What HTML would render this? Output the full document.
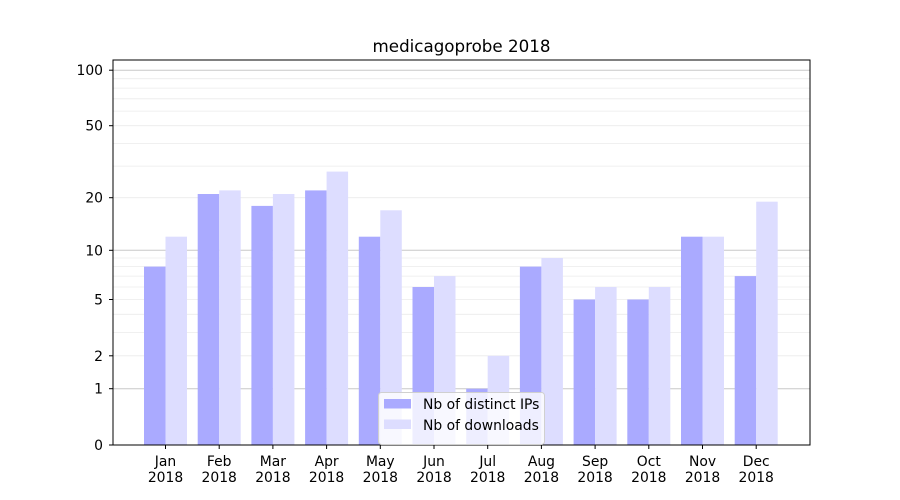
<!DOCTYPE html>
<html><head><meta charset="utf-8"><style>body{margin:0;background:#fff}svg{display:block}text{font-family:"DejaVu Sans","Liberation Sans",sans-serif;font-size:13.9px;fill:#000}</style></head><body>
<svg width="900" height="500" viewBox="0 0 900 500">
<rect width="900" height="500" fill="#fff"/>
<g stroke="#ebebeb" stroke-width="0.8">
<line x1="113" x2="810" y1="355.8" y2="355.8"/><line x1="113" x2="810" y1="332.4" y2="332.4"/><line x1="113" x2="810" y1="314.3" y2="314.3"/><line x1="113" x2="810" y1="299.5" y2="299.5"/><line x1="113" x2="810" y1="287" y2="287"/><line x1="113" x2="810" y1="276.1" y2="276.1"/><line x1="113" x2="810" y1="266.6" y2="266.6"/><line x1="113" x2="810" y1="258" y2="258"/>
<line x1="113" x2="810" y1="197.7" y2="197.7"/><line x1="113" x2="810" y1="166.1" y2="166.1"/><line x1="113" x2="810" y1="143.4" y2="143.4"/><line x1="113" x2="810" y1="125.7" y2="125.7"/><line x1="113" x2="810" y1="111.1" y2="111.1"/><line x1="113" x2="810" y1="98.8" y2="98.8"/><line x1="113" x2="810" y1="88.1" y2="88.1"/><line x1="113" x2="810" y1="78.7" y2="78.7"/>
</g>
<g stroke="#c8c8c8" stroke-width="1"><line x1="113" x2="810" y1="388.7" y2="388.7"/><line x1="113" x2="810" y1="250.3" y2="250.3"/><line x1="113" x2="810" y1="70.2" y2="70.2"/></g>
<g fill="#aaaaff">
<rect x="144" y="266.6" width="21.5" height="178.4"/><rect x="197.7" y="194" width="21.5" height="251"/><rect x="251.4" y="205.9" width="21.5" height="239.1"/><rect x="305.1" y="190.4" width="21.5" height="254.6"/><rect x="358.8" y="236.7" width="21.5" height="208.3"/><rect x="412.5" y="287" width="21.5" height="158"/><rect x="466.2" y="388.7" width="21.5" height="56.3"/><rect x="519.9" y="266.6" width="21.5" height="178.4"/><rect x="573.6" y="299.5" width="21.5" height="145.5"/><rect x="627.3" y="299.5" width="21.5" height="145.5"/><rect x="681" y="236.7" width="21.5" height="208.3"/><rect x="734.7" y="276.1" width="21.5" height="168.9"/>
</g>
<g fill="#ddddff">
<rect x="165.5" y="236.7" width="21.5" height="208.3"/><rect x="219.2" y="190.4" width="21.5" height="254.6"/><rect x="272.9" y="194" width="21.5" height="251"/><rect x="326.6" y="171.6" width="21.5" height="273.4"/><rect x="380.3" y="210.3" width="21.5" height="234.7"/><rect x="434" y="276.1" width="21.5" height="168.9"/><rect x="487.7" y="355.8" width="21.5" height="89.2"/><rect x="541.4" y="258" width="21.5" height="187"/><rect x="595.1" y="287" width="21.5" height="158"/><rect x="648.8" y="287" width="21.5" height="158"/><rect x="702.5" y="236.7" width="21.5" height="208.3"/><rect x="756.2" y="201.7" width="21.5" height="243.3"/>
</g>
<rect x="113" y="60" width="697" height="385" fill="none" stroke="#000" stroke-width="1"/>
<g stroke="#000"><line x1="109" x2="113" y1="445" y2="445"/><line x1="109" x2="113" y1="388.7" y2="388.7"/><line x1="109" x2="113" y1="355.8" y2="355.8"/><line x1="109" x2="113" y1="299.5" y2="299.5"/><line x1="109" x2="113" y1="250.3" y2="250.3"/><line x1="109" x2="113" y1="197.7" y2="197.7"/><line x1="109" x2="113" y1="125.7" y2="125.7"/><line x1="109" x2="113" y1="70.2" y2="70.2"/></g>
<g text-anchor="end"><text x="103" y="450">0</text><text x="103" y="393.7">1</text><text x="103" y="360.8">2</text><text x="103" y="304.5">5</text><text x="103" y="255.3">10</text><text x="103" y="202.7">20</text><text x="103" y="130.7">50</text><text x="103" y="75.2">100</text></g>
<g stroke="#000"><line x1="165.5" x2="165.5" y1="445" y2="449"/><line x1="219.2" x2="219.2" y1="445" y2="449"/><line x1="272.9" x2="272.9" y1="445" y2="449"/><line x1="326.6" x2="326.6" y1="445" y2="449"/><line x1="380.3" x2="380.3" y1="445" y2="449"/><line x1="434" x2="434" y1="445" y2="449"/><line x1="487.7" x2="487.7" y1="445" y2="449"/><line x1="541.4" x2="541.4" y1="445" y2="449"/><line x1="595.1" x2="595.1" y1="445" y2="449"/><line x1="648.8" x2="648.8" y1="445" y2="449"/><line x1="702.5" x2="702.5" y1="445" y2="449"/><line x1="756.2" x2="756.2" y1="445" y2="449"/></g>
<g text-anchor="middle">
<text x="165.5" y="466">Jan</text><text x="165.5" y="482">2018</text>
<text x="219.2" y="466">Feb</text><text x="219.2" y="482">2018</text>
<text x="272.9" y="466">Mar</text><text x="272.9" y="482">2018</text>
<text x="326.6" y="466">Apr</text><text x="326.6" y="482">2018</text>
<text x="380.3" y="466">May</text><text x="380.3" y="482">2018</text>
<text x="434" y="466">Jun</text><text x="434" y="482">2018</text>
<text x="487.7" y="466">Jul</text><text x="487.7" y="482">2018</text>
<text x="541.4" y="466">Aug</text><text x="541.4" y="482">2018</text>
<text x="595.1" y="466">Sep</text><text x="595.1" y="482">2018</text>
<text x="648.8" y="466">Oct</text><text x="648.8" y="482">2018</text>
<text x="702.5" y="466">Nov</text><text x="702.5" y="482">2018</text>
<text x="756.2" y="466">Dec</text><text x="756.2" y="482">2018</text>
<text x="461.5" y="52" style="font-size:16.7px">medicagoprobe 2018</text>
</g>
<rect x="378.5" y="392.5" width="166" height="52" rx="3" fill="#fff" fill-opacity="0.8" stroke="#d0d0d0"/>
<rect x="384" y="399" width="27" height="9.5" fill="#aaaaff"/>
<rect x="384" y="419.5" width="27" height="9.5" fill="#ddddff"/>
<text x="423" y="409">Nb of distinct IPs</text>
<text x="423" y="430">Nb of downloads</text>
</svg>
</body></html>
